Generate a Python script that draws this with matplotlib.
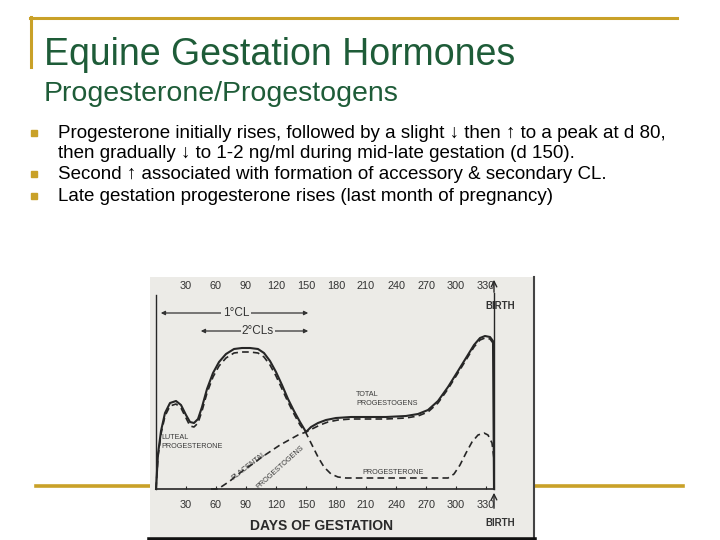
"""
plot.py -- Equine gestation hormones slide (progesterone / progestogens).
"""
import numpy as np
import matplotlib
matplotlib.use("Agg")
import matplotlib.pyplot as plt
from matplotlib.lines import Line2D

plt.rcParams["font.family"] = ["Liberation Sans", "DejaVu Sans"]

GOLD = "#C9A128"
GREEN = "#1E5C38"
INK = "#262626"
PHOTO_BG = "#ecebe7"

# ── slide text
TITLE = "Equine Gestation Hormones"
SUBTITLE = "Progesterone/Progestogens"
BULLET_LINES = [
    "Progesterone initially rises, followed by a slight \u2193 then \u2191 to a peak at d 80,",
    "then gradually \u2193 to 1-2 ng/ml during mid-late gestation (d 150).",
    "Second \u2191 associated with formation of accessory & secondary CL.",
    "Late gestation progesterone rises (last month of pregnancy)",
]
BULLET_START = [True, False, True, True]

# ── chart data (days of gestation, relative level)
TICK_DAYS = [30, 60, 90, 120, 150, 180, 210, 240, 270, 300, 330]
BIRTH_DAY = 338

total_days = [0, 2, 5, 9, 14, 20, 25, 30, 34, 38, 42, 46, 51, 57, 63, 70, 78, 86,
              94, 102, 108, 114, 120, 126, 132, 138, 144, 150, 155, 162, 170, 180,
              195, 210, 230, 250, 262, 272, 282, 292, 302, 310, 318, 324, 329, 334,
              337, 338]
total_level = [0, 35, 58, 76, 86, 88, 84, 74, 67, 66, 70, 82, 100, 116, 127, 135,
               140, 141, 141, 140, 136, 128, 117, 104, 90, 78, 67, 57, 62, 66, 69,
               71, 72, 72, 72, 73, 75, 79, 88, 102, 118, 131, 144, 151, 153, 152,
               148, 0]

prog_days = [0, 2, 5, 9, 14, 20, 25, 30, 34, 38, 42, 46, 51, 57, 63, 70, 78, 86,
             94, 102, 108, 114, 120, 126, 132, 138, 144, 150, 156, 162, 168, 175,
             182, 190, 220, 260, 292, 298, 304, 310, 316, 322, 328, 332, 336, 338]
prog_level = [0, 32, 55, 73, 83, 85, 81, 71, 63, 62, 66, 78, 96, 112, 123, 131, 136,
              137, 137, 136, 132, 124, 113, 100, 87, 75, 64, 56, 44, 32, 22, 15, 12,
              11, 11, 11, 11, 15, 24, 36, 47, 54, 56, 54, 46, 30]

plac_days = [55, 62, 68, 74, 80, 89, 98, 106, 115, 124, 133, 142, 150, 156, 164,
             172, 182, 195, 210, 230, 250, 262, 272, 282, 292, 302, 310, 318, 324,
             329, 334, 337]
plac_level = [0, 0, 4, 8, 13, 20, 26, 32, 38, 44, 49, 54, 57, 60, 64, 67, 69, 70,
              70, 70, 71, 73, 77, 86, 100, 116, 129, 142, 149, 151, 150, 146]


def fx(px):
    return px / 720


def fy(py):
    return 1 - py / 540


fig = plt.figure(figsize=(7.2, 5.4), dpi=100)
fig.patch.set_facecolor("white")

# ── slide frame lines
fig.add_artist(Line2D([fx(30), fx(677)], [fy(18), fy(18)], color=GOLD, lw=2.2, zorder=-1))
fig.add_artist(Line2D([fx(31), fx(31)], [fy(17), fy(67)], color=GOLD, lw=2.2, zorder=-1))
fig.add_artist(Line2D([fx(36), fx(683)], [fy(486), fy(486)], color=GOLD, lw=2.6, zorder=-1))

fig.text(fx(44), fy(65), TITLE, color=GREEN, fontsize=27, va="baseline")
fig.text(fx(44), fy(101), SUBTITLE, color=GREEN, fontsize=20.5, va="baseline")

line_base = [138, 158, 179, 201]
for base, txt, has_bullet in zip(line_base, BULLET_LINES, BULLET_START):
    if has_bullet:
        fig.add_artist(Line2D([fx(34)], [fy(base - 5)], marker="s", ms=5,
                              color=GOLD, lw=0))
    fig.text(fx(58), fy(base), txt, fontsize=13.5, va="baseline", color="black")

# ── photo of the chart
ax = fig.add_axes([fx(150), 0, (534 - 150) / 720, (540 - 277) / 540])
ax.set_facecolor(PHOTO_BG)
ax.set_xlim(-6, 378)
ax.set_ylim(-51, 212)
ax.set_xticks([])
ax.set_yticks([])
for s in ("top", "left"):
    ax.spines[s].set_visible(False)
ax.spines["bottom"].set_color("#111111")
ax.spines["bottom"].set_linewidth(4)
ax.spines["right"].set_color("#444444")
ax.spines["right"].set_linewidth(1.5)

# axes drawn in the photo
ax.plot([0, 0], [0, 194], color=INK, lw=1.0)
ax.plot([0, BIRTH_DAY], [0, 0], color=INK, lw=1.2)
ax.plot([BIRTH_DAY, BIRTH_DAY], [0, 196], color=INK, lw=1.0)
ax.vlines(TICK_DAYS, 0, 3, color=INK, lw=0.8)
ax.annotate("", xy=(BIRTH_DAY, 212), xytext=(BIRTH_DAY, 194),
            arrowprops=dict(arrowstyle="->", color=INK, lw=1.0))
ax.annotate("", xy=(BIRTH_DAY, -1), xytext=(BIRTH_DAY, -22),
            arrowprops=dict(arrowstyle="->", color=INK, lw=1.0))

# curves
ax.plot(total_days, total_level, color=INK, lw=1.5)
ax.plot(prog_days, prog_level, color=INK, lw=1.2, ls=(0, (4, 2.5)))
ax.plot(plac_days, plac_level, color=INK, lw=1.2, ls=(0, (4, 2.5)))

# tick labels top and bottom
for d in TICK_DAYS:
    ax.text(d, 203, str(d), ha="center", va="center", fontsize=7.8, color="#333333")
    ax.text(d, -16, str(d), ha="center", va="center", fontsize=7.8, color="#333333")

ax.text(BIRTH_DAY + 6, 183, "BIRTH", ha="center", va="center", fontsize=7,
        fontweight="bold", color="#333333")
ax.text(BIRTH_DAY + 6, -34, "BIRTH", ha="center", va="center", fontsize=7,
        fontweight="bold", color="#333333")
ax.text(165, -37, "DAYS OF GESTATION", ha="center", va="center", fontsize=10,
        fontweight="bold", color="#2a2a2a")

# corpus luteum arrows
ax.annotate("", xy=(2, 176), xytext=(155, 176),
            arrowprops=dict(arrowstyle="<|-|>", color="#333333", lw=0.9,
                            mutation_scale=6))
ax.text(80, 176, "1\u00b0CL", ha="center", va="center", fontsize=8.5,
        color="#333333", bbox=dict(fc=PHOTO_BG, ec="none", pad=1))
ax.annotate("", xy=(42, 158), xytext=(155, 158),
            arrowprops=dict(arrowstyle="<|-|>", color="#333333", lw=0.9,
                            mutation_scale=6))
ax.text(102, 158, "2\u00b0CLs", ha="center", va="center", fontsize=8.5,
        color="#333333", bbox=dict(fc=PHOTO_BG, ec="none", pad=1))

# curve labels
small = dict(fontsize=5.2, color="#3a3a3a", linespacing=1.4)
ax.text(200, 90, "TOTAL\nPROGESTOGENS", ha="left", va="center", **small)
ax.text(5, 47, "LUTEAL\nPROGESTERONE", ha="left", va="center", **small)
ax.text(237, 16, "PROGESTERONE", ha="center", va="center", **small)
ax.text(93, 23, "PLACENTAL", ha="center", va="center", rotation=38, **small)
ax.text(124, 22, "PROGESTOGENS", ha="center", va="center", rotation=42, **small)

fig.savefig("out.png", dpi=100)
